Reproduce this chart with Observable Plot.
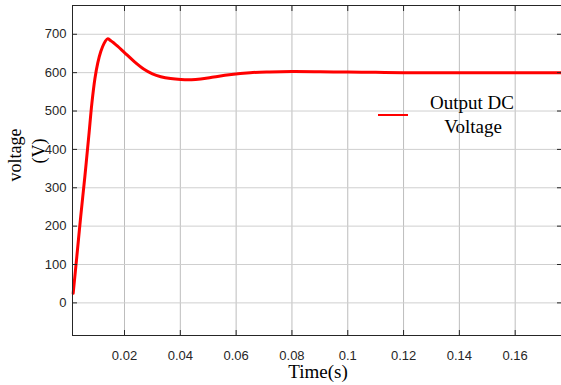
<!DOCTYPE html>
<html>
<head>
<meta charset="utf-8">
<script src="https://cdn.jsdelivr.net/npm/d3@7"></script>
<script src="https://cdn.jsdelivr.net/npm/@observablehq/plot@0.6"></script>
<style>
  html, body { margin: 0; padding: 0; background: #fff; }
  #chart svg { display: block; }
</style>
</head>
<body>
<div id="chart"></div>
<script>
const time = [0.0016, 0.0029, 0.0043, 0.0058, 0.0072, 0.0083, 0.0094, 0.0104, 0.0115, 0.0126, 0.0139, 0.0151, 0.0175, 0.0199, 0.0235, 0.027, 0.030, 0.033, 0.0365, 0.0402, 0.0440, 0.0473, 0.052, 0.0575, 0.065, 0.072, 0.08, 0.09, 0.1, 0.11, 0.12, 0.14, 0.16, 0.1767];
const voltage = [25, 120, 225, 330, 435, 520, 585, 625, 655, 675, 688, 683, 669, 653, 629, 609, 597, 589.5, 584.5, 582, 581.5, 583.5, 588.5, 594.5, 600, 602, 603, 602.5, 601.5, 601, 600, 600, 600, 600];
const xTicks = [0.02, 0.04, 0.06, 0.08, 0.1, 0.12, 0.14, 0.16];
const yTicks = [0, 100, 200, 300, 400, 500, 600, 700];
const seriesName = ["Output DC", "Voltage"];
const xLabel = "Time(s)";
const yLabel = ["voltage", "(V)"];

const data = time.map((t, i) => ({t, v: voltage[i]}));
const axisColor = "#262626";
const blank = () => "";

const chart = Plot.plot({
  width: 561,
  height: 385,
  marginLeft: 72,
  marginRight: 0,
  marginTop: 5,
  marginBottom: 50,
  style: {fontFamily: "'Liberation Sans', Arial, sans-serif", fontSize: "13px", color: axisColor, background: "#fff"},
  x: {domain: [0.00136, 0.1766]},
  y: {domain: [-85, 775]},
  marks: [
    Plot.gridX(xTicks, {stroke: "#bdbdbd", strokeOpacity: 1}),
    Plot.gridY(yTicks, {stroke: "#cfcfcf", strokeOpacity: 1}),
    Plot.line(data, {x: "t", y: "v", stroke: "#ff0000", strokeWidth: 3, curve: "catmull-rom"}),
    Plot.frame({anchor: "left", stroke: axisColor}),
    Plot.frame({anchor: "bottom", stroke: axisColor}),
    Plot.frame({anchor: "top", stroke: axisColor}),
    Plot.axisX(xTicks, {anchor: "bottom", tickSize: 0, tickPadding: 15, tickFormat: d => String(d), label: null, fill: axisColor}),
    Plot.axisY(yTicks, {anchor: "left", tickSize: 0, tickPadding: 6, tickFormat: d => String(d), label: null, fill: axisColor}),
    Plot.axisX(xTicks, {anchor: "bottom", tickSize: -5, tickFormat: blank, label: null, stroke: axisColor}),
    Plot.axisX(xTicks, {anchor: "top", tickSize: -5, tickFormat: blank, label: null, stroke: axisColor}),
    Plot.axisY(yTicks, {anchor: "left", tickSize: -5, tickFormat: blank, label: null, stroke: axisColor}),
    Plot.axisY(yTicks, {anchor: "right", tickSize: -5, tickFormat: blank, label: null, stroke: axisColor})
  ]
});
document.getElementById("chart").appendChild(chart);

const svg = d3.select(chart);
const serif = "'Liberation Serif', 'Times New Roman', serif";
// x label
svg.append("text")
  .attr("x", 318).attr("y", 378)
  .attr("text-anchor", "middle")
  .attr("font-family", serif).attr("font-size", 19).attr("fill", "#000")
  .text(xLabel);
// y label (two lines, rotated)
svg.append("text")
  .attr("transform", "translate(21,155) rotate(-90)")
  .attr("text-anchor", "middle")
  .attr("font-family", serif).attr("font-size", 18).attr("fill", "#000")
  .text(yLabel[0]);
svg.append("text")
  .attr("transform", "translate(45,151) rotate(-90)")
  .attr("text-anchor", "middle")
  .attr("font-family", serif).attr("font-size", 18).attr("fill", "#000")
  .text(yLabel[1]);
// legend
const lg = svg.append("g");
lg.append("line").attr("x1", 378).attr("x2", 408).attr("y1", 115).attr("y2", 115)
  .attr("stroke", "#ff0000").attr("stroke-width", 2);
lg.append("text").attr("x", 472).attr("y", 109).attr("text-anchor", "middle")
  .attr("font-family", serif).attr("font-size", 19).attr("fill", "#000").text(seriesName[0]);
lg.append("text").attr("x", 473).attr("y", 133).attr("text-anchor", "middle")
  .attr("font-family", serif).attr("font-size", 19).attr("fill", "#000").text(seriesName[1]);
</script>
</body>
</html>
